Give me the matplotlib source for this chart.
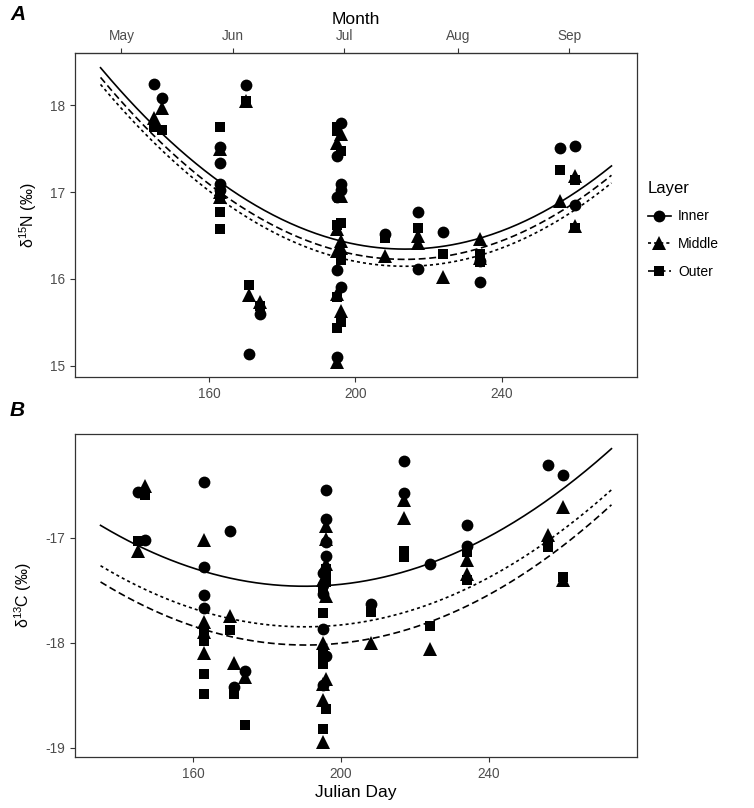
import numpy as np
import matplotlib
matplotlib.use("Agg")
import matplotlib.pyplot as plt
from matplotlib.lines import Line2D

plt.rcParams['font.family'] = ['Liberation Sans', 'DejaVu Sans']
plt.rcParams['mathtext.fontset'] = 'custom'
plt.rcParams['mathtext.rm'] = 'Liberation Sans'
plt.rcParams['mathtext.it'] = 'Liberation Sans:italic'
plt.rcParams['axes.unicode_minus'] = False
plt.rcParams['lines.scale_dashes'] = False

# ---------------- data ----------------
layers = ["Inner", "Middle", "Outer"]

# Panel A: delta 15N
n15_inner_day = [145, 147, 163, 163, 163, 163, 170, 171, 174,
                 195, 195, 195, 195, 196, 196, 196, 196,
                 208, 217, 217, 224, 234, 234, 256, 260, 260]
n15_inner_val = [18.25, 18.08, 17.52, 17.34, 17.09, 17.02, 18.23, 15.14, 15.60,
                 17.42, 16.94, 16.10, 15.10, 17.80, 17.09, 17.02, 15.91,
                 16.52, 16.77, 16.11, 16.54, 15.97, 16.21, 17.51, 17.53, 16.85]

n15_middle_day = [145, 147, 163, 163, 163, 170, 171, 174,
                  195, 195, 195, 195, 195, 196, 196, 196, 196, 196,
                  208, 217, 217, 224, 234, 234, 256, 260, 260]
n15_middle_val = [17.85, 17.97, 17.50, 17.00, 16.95, 18.05, 15.81, 15.73,
                  17.57, 16.57, 16.32, 15.83, 15.04, 17.67, 16.96, 16.44, 16.36, 15.63,
                  16.27, 16.50, 16.42, 16.02, 16.46, 16.24, 16.90, 17.19, 16.61]

n15_outer_day = [145, 147, 163, 163, 163, 163, 170, 171, 174,
                 195, 195, 195, 195, 195, 196, 196, 196, 196,
                 208, 217, 224, 234, 234, 256, 260, 260]
n15_outer_val = [17.75, 17.72, 17.75, 16.97, 16.77, 16.58, 18.05, 15.93, 15.69,
                 17.75, 17.70, 16.62, 15.79, 15.43, 17.48, 16.64, 16.22, 15.50,
                 16.47, 16.59, 16.29, 16.29, 16.19, 17.25, 17.14, 16.59]

# Panel B: delta 13C
c13_inner_day = [145, 147, 163, 163, 163, 163, 170, 171, 174,
                 195, 195, 195, 195, 195, 196, 196, 196, 196, 196,
                 208, 217, 217, 224, 234, 234, 256, 260]
c13_inner_val = [-16.56, -17.02, -16.47, -17.28, -17.54, -17.67, -16.93, -18.42, -18.27,
                 -17.33, -17.45, -17.53, -17.87, -18.40, -16.54, -16.82, -17.04, -17.17, -18.13,
                 -17.63, -16.27, -16.57, -17.25, -16.88, -17.08, -16.30, -16.40]

c13_middle_day = [145, 147, 163, 163, 163, 163, 170, 171, 174,
                  195, 195, 195, 195, 195, 196, 196, 196, 196, 196,
                  208, 217, 217, 224, 234, 234, 256, 260, 260]
c13_middle_val = [-17.12, -16.50, -17.02, -17.80, -17.90, -18.10, -17.74, -18.19, -18.33,
                  -18.00, -18.39, -18.55, -18.95, -17.40, -16.89, -17.01, -17.25, -17.55, -18.35,
                  -18.00, -16.64, -16.81, -18.06, -17.21, -17.34, -16.97, -16.70, -17.40]

c13_outer_day = [145, 147, 163, 163, 163, 163, 170, 171, 174,
                 195, 195, 195, 195, 195, 196, 196, 196, 196,
                 208, 217, 217, 224, 234, 234, 256, 260]
c13_outer_val = [-17.03, -16.59, -17.92, -17.98, -18.30, -18.49, -17.88, -18.49, -18.78,
                 -17.72, -18.11, -18.20, -18.82, -17.50, -17.30, -17.34, -17.42, -18.63,
                 -17.71, -17.12, -17.18, -17.84, -17.13, -17.40, -17.09, -17.37]

# fitted quadratic trend lines
n15_fit_day = [130.3, 163.0, 212.0, 240.0, 270.0]
n15_fit_inner = [18.42, 17.14, 16.35, 16.52, 17.32]
n15_fit_middle = [18.23, 16.94, 16.15, 16.33, 17.12]
n15_fit_outer = [18.31, 17.02, 16.23, 16.41, 17.21]

c13_fit_day = [134.9, 162.8, 190.3, 223.9, 273.2]
c13_fit_inner = [-16.895, -17.28, -17.485, -17.245, -16.145]
c13_fit_middle = [-17.27, -17.69, -17.86, -17.63, -16.54]
c13_fit_outer = [-17.43, -17.85, -18.03, -17.81, -16.68]

month_days = [136, 166.5, 197, 228, 258.5]
month_labels = ["May", "Jun", "Jul", "Aug", "Sep"]

# ---------------- styles ----------------
markers = {"Inner": ("o", 8.5), "Middle": ("^", 9.5), "Outer": ("s", 7.5)}
linestyles = {"Inner": "-", "Middle": (0, (2.2, 2.2)), "Outer": (0, (5.0, 2.6))}
TXT = "#4D4D4D"
AX = "#333333"

fig = plt.figure(figsize=(7.54, 8.08), dpi=100)
axA = fig.add_axes([75/754, 1-377/808, 562/754, 324/808])
axB = fig.add_axes([75/754, 1-757/808, 562/754, 323/808])


def draw(ax, pts, fit_day, fits):
    for lay in layers:
        d, v = pts[lay]
        m, ms = markers[lay]
        ax.plot(d, v, linestyle="none", marker=m, ms=ms, color="black",
                mec="black", mew=0, zorder=3)
    for lay in layers:
        coef = np.polyfit(fit_day, fits[lay], 2)
        xs = np.linspace(min(fit_day), max(fit_day), 300)
        ax.plot(xs, np.polyval(coef, xs), color="black", lw=1.2,
                linestyle=linestyles[lay], zorder=2)
    ax.margins(x=0.05, y=0.05)
    for s in ax.spines.values():
        s.set_color(AX)
        s.set_linewidth(0.9)
    ax.tick_params(direction="out", length=3.5, width=0.8, color=AX,
                   labelcolor=TXT, labelsize=9.8)
    ax.set_xticks([160, 200, 240])


draw(axA,
     {"Inner": (n15_inner_day, n15_inner_val),
      "Middle": (n15_middle_day, n15_middle_val),
      "Outer": (n15_outer_day, n15_outer_val)},
     n15_fit_day,
     {"Inner": n15_fit_inner, "Middle": n15_fit_middle, "Outer": n15_fit_outer})
draw(axB,
     {"Inner": (c13_inner_day, c13_inner_val),
      "Middle": (c13_middle_day, c13_middle_val),
      "Outer": (c13_outer_day, c13_outer_val)},
     c13_fit_day,
     {"Inner": c13_fit_inner, "Middle": c13_fit_middle, "Outer": c13_fit_outer})

axA.set_yticks([15, 16, 17, 18])
axB.set_yticks([-19, -18, -17])

axA.set_ylabel(r"δ$^{15}$N (‰)", fontsize=11.5, color="black", labelpad=8)
axB.set_ylabel(r"δ$^{13}$C (‰)", fontsize=11.5, color="black", labelpad=8)
axB.set_xlabel("Julian Day", fontsize=12.5, color="black", labelpad=3)

sec = axA.secondary_xaxis("top")
sec.set_xticks(month_days)
sec.set_xticklabels(month_labels)
sec.tick_params(direction="out", length=3.5, width=0.8, color=AX,
                labelcolor=TXT, labelsize=9.8)
sec.spines["top"].set_color(AX)
sec.set_xlabel("Month", fontsize=12.5, color="black", labelpad=4)

fig.text(10/754, 1-15/808, "A", fontsize=15, fontweight="bold", fontstyle="italic",
         va="center", ha="left")
fig.text(10/754, 1-411/808, "B", fontsize=15, fontweight="bold", fontstyle="italic",
         va="center", ha="left")

handles = [Line2D([], [], color="black", marker=markers[l][0], ms=markers[l][1],
                  mew=0, linestyle=linestyles[l], lw=1.2) for l in layers]
leg = fig.legend(handles, layers, title="Layer", loc="upper left",
                 bbox_to_anchor=(635/754, 1-168/808), frameon=False,
                 fontsize=10, title_fontsize=12, handlelength=1.7,
                 labelspacing=1.0, handletextpad=0.5)
leg._legend_box.align = "left"

fig.savefig("out.png", dpi=100)
